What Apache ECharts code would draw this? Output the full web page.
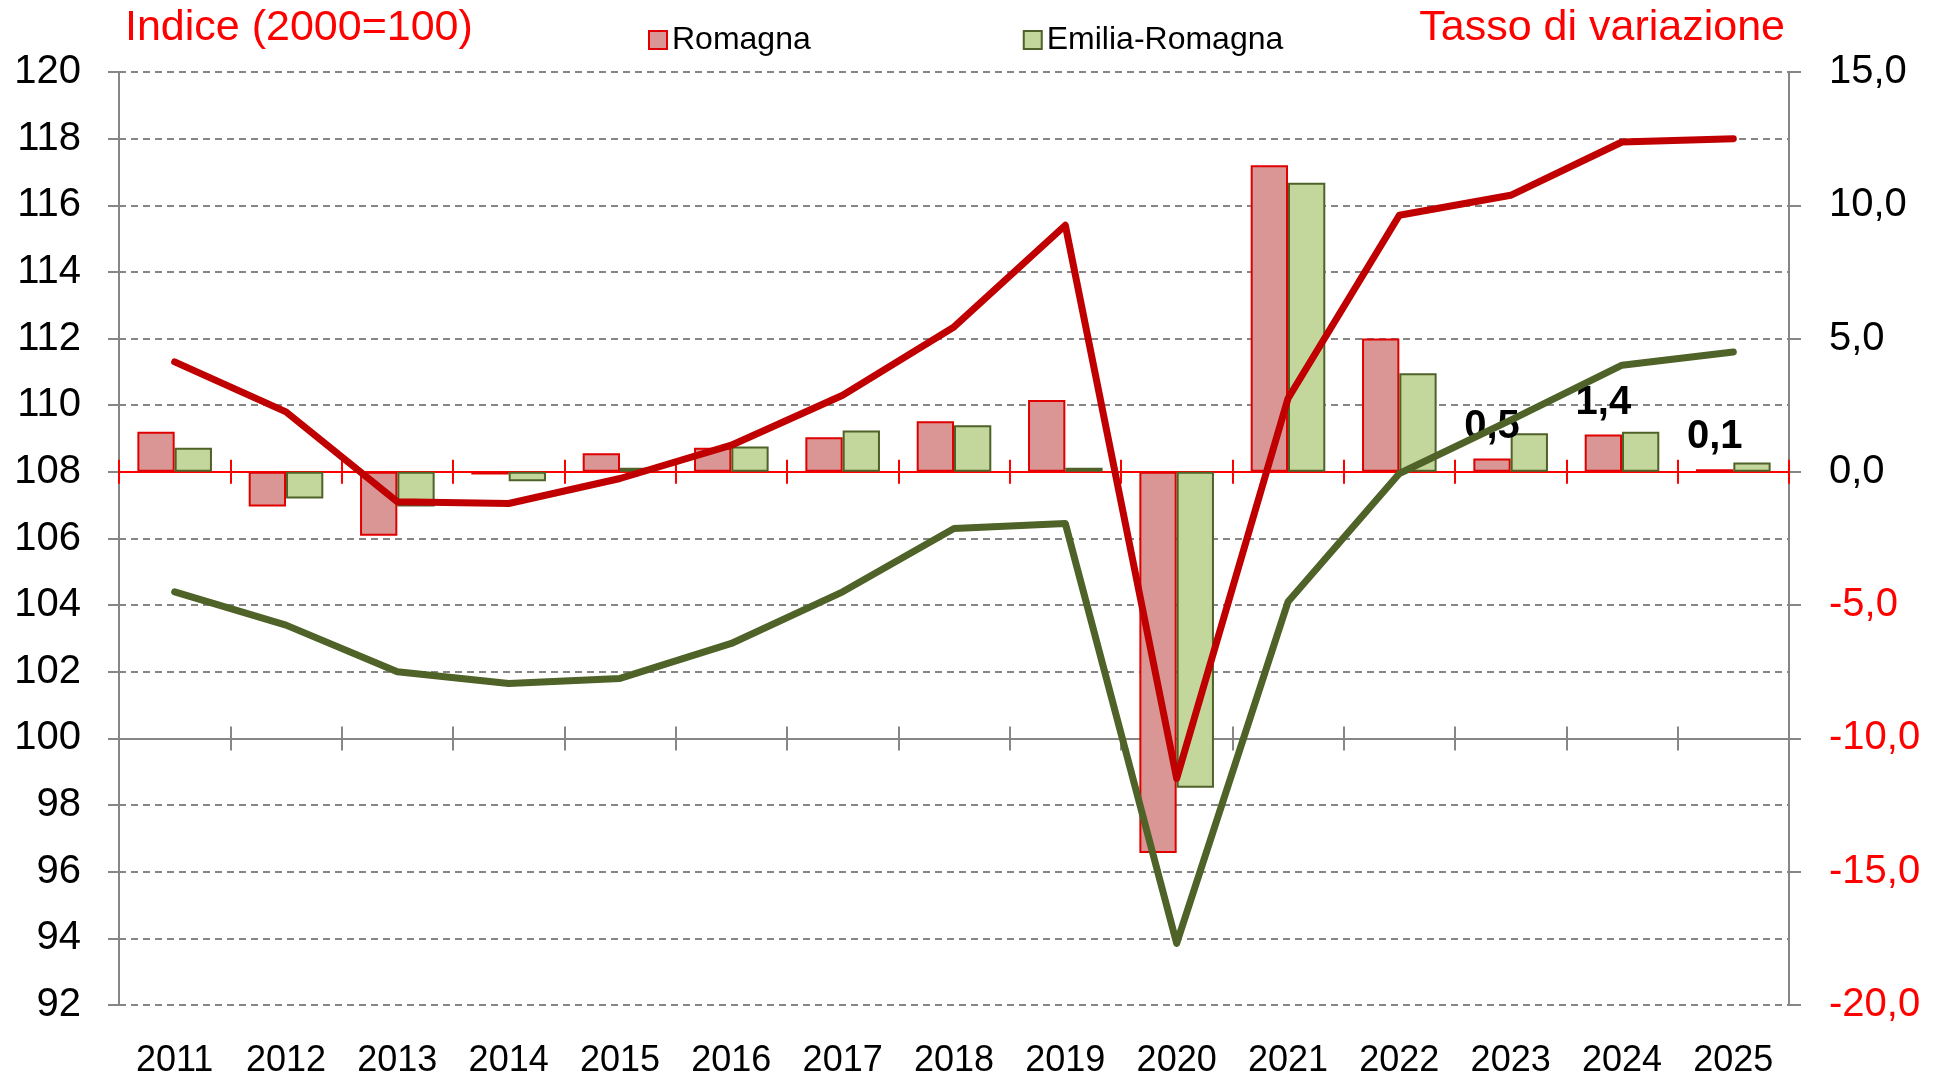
<!DOCTYPE html>
<html>
<head>
<meta charset="utf-8">
<script src="https://cdn.jsdelivr.net/npm/echarts@6/dist/echarts.min.js"></script>
<style>
html, body { margin: 0; padding: 0; background: #fff; }
#pic1 { width: 1944px; height: 1079px; }
</style>
</head>
<body>
<div id="pic1"></div>
<script>
// anni
var years = ['2011','2012','2013','2014','2015','2016','2017','2018','2019','2020','2021','2022','2023','2024','2025'];
// indice 2000=100 (asse sinistro)
var romIndex = [111.3, 109.8, 107.1, 107.05, 107.8, 108.8, 110.3, 112.35, 115.4, 98.8, 110.2, 115.7, 116.3, 117.9, 118.0];
var emrIndex = [104.4, 103.4, 102.0, 101.65, 101.8, 102.85, 104.4, 106.3, 106.45, 93.85, 104.1, 107.95, 109.55, 111.2, 111.6];
// tasso di variazione (asse destro)
var romRate = [1.5, -1.3, -2.4, -0.1, 0.7, 0.9, 1.3, 1.9, 2.7, -14.3, 11.5, 5.0, 0.5, 1.4, 0.1];
var emrRate = [0.9, -1.0, -1.3, -0.35, 0.15, 0.95, 1.55, 1.75, 0.15, -11.85, 10.85, 3.7, 1.45, 1.5, 0.35];
// etichette solo per gli ultimi anni
var labelYears = ['2023', '2024', '2025'];

var FONT = 'Liberation Sans, Arial, sans-serif';
var GRAY = '#868686';

function virgola(v) {
    return Number(v).toFixed(1).replace('.', ',');
}

// asse categorie senza etichette, agganciato allo zero di un asse y
function crossAxis(yIdx, color, pos) {
    return {
        type: 'category',
        data: years,
        position: pos,
        axisLine: { show: true, onZero: true, onZeroAxisIndex: yIdx, lineStyle: { color: color, width: 2 } },
        axisTick: { show: true, length: 12, lineStyle: { color: color, width: 2 } },
        axisLabel: { show: false },
        splitLine: { show: false }
    };
}

var myChart = echarts.init(document.getElementById('pic1'));

var option = {
    animation: false,
    backgroundColor: '#fff',
    title: [
        { text: 'Indice (2000=100)', left: 120, top: 2,
          textStyle: { color: '#FF0000', fontSize: 43, fontWeight: 'normal', fontFamily: FONT } },
        { text: 'Tasso di variazione', right: 154, top: 2,
          textStyle: { color: '#FF0000', fontSize: 43, fontWeight: 'normal', fontFamily: FONT } }
    ],
    legend: {
        data: ['Romagna', 'Emilia-Romagna'],
        left: 643,
        top: 19,
        itemWidth: 18,
        itemHeight: 18,
        itemGap: 212,
        icon: 'rect',
        textStyle: { color: '#000', fontSize: 32, fontFamily: FONT }
    },
    grid: { left: 119, right: 155, top: 72, bottom: 72 },
    xAxis: [
        {
            type: 'category',
            data: years,
            position: 'bottom',
            axisLine: { show: false, onZero: false },
            axisTick: { show: false },
            axisLabel: { color: '#000', fontSize: 36, fontFamily: FONT, margin: 38 },
            splitLine: { show: false }
        },
        crossAxis(2, GRAY, 'bottom'),
        crossAxis(2, GRAY, 'top'),
        crossAxis(1, '#FF0000', 'bottom'),
        crossAxis(1, '#FF0000', 'top')
    ],
    yAxis: [
        {
            type: 'value',
            position: 'left',
            min: 92, max: 120, interval: 2,
            axisLine: { show: true, lineStyle: { color: GRAY, width: 2 } },
            axisTick: { show: true, length: 11, lineStyle: { color: GRAY, width: 2 } },
            axisLabel: { color: '#000', fontSize: 40, fontFamily: FONT, margin: 38 },
            splitLine: { show: true, lineStyle: { color: GRAY, width: 2, type: [7, 5] } }
        },
        {
            type: 'value',
            position: 'right',
            min: -20, max: 15, interval: 5,
            axisLine: { show: true, lineStyle: { color: GRAY, width: 2 } },
            axisTick: { show: true, length: 12, lineStyle: { color: GRAY, width: 2 } },
            axisLabel: {
                fontSize: 40, fontFamily: FONT, margin: 40,
                formatter: function (v) { return virgola(v); },
                color: function (v) { return parseFloat(v) < 0 ? '#FF0000' : '#000'; }
            },
            splitLine: { show: false }
        },
        {
            // asse nascosto: lo zero coincide con 100 dell'asse sinistro
            type: 'value',
            show: false,
            min: -8, max: 20
        }
    ],
    series: [
        {
            name: 'Romagna',
            type: 'bar',
            xAxisIndex: 0,
            yAxisIndex: 1,
            data: romRate,
            barGap: '0%',
            barCategoryGap: '33%',
            itemStyle: { color: '#D99694', borderColor: '#E00000', borderWidth: 2 },
            label: {
                show: true,
                position: 'top',
                distance: 12,
                color: '#000',
                fontSize: 40,
                fontWeight: 'bold',
                fontFamily: FONT,
                formatter: function (p) {
                    return labelYears.indexOf(p.name) >= 0 ? virgola(p.value) : '';
                }
            },
            z: 2
        },
        {
            name: 'Emilia-Romagna',
            type: 'bar',
            xAxisIndex: 0,
            yAxisIndex: 1,
            data: emrRate,
            barGap: '0%',
            barCategoryGap: '33%',
            itemStyle: { color: '#C3D69B', borderColor: '#4F6228', borderWidth: 2 },
            z: 2
        },
        {
            name: 'Indice Emilia-Romagna',
            type: 'line',
            xAxisIndex: 0,
            yAxisIndex: 0,
            data: emrIndex,
            showSymbol: false,
            symbol: 'none',
            lineStyle: { color: '#4F6228', width: 7, cap: 'round', join: 'round' },
            z: 4
        },
        {
            name: 'Indice Romagna',
            type: 'line',
            xAxisIndex: 0,
            yAxisIndex: 0,
            data: romIndex,
            showSymbol: false,
            symbol: 'none',
            lineStyle: { color: '#C00000', width: 7, cap: 'round', join: 'round' },
            z: 5
        }
    ]
};

myChart.setOption(option);
</script>
</body>
</html>
